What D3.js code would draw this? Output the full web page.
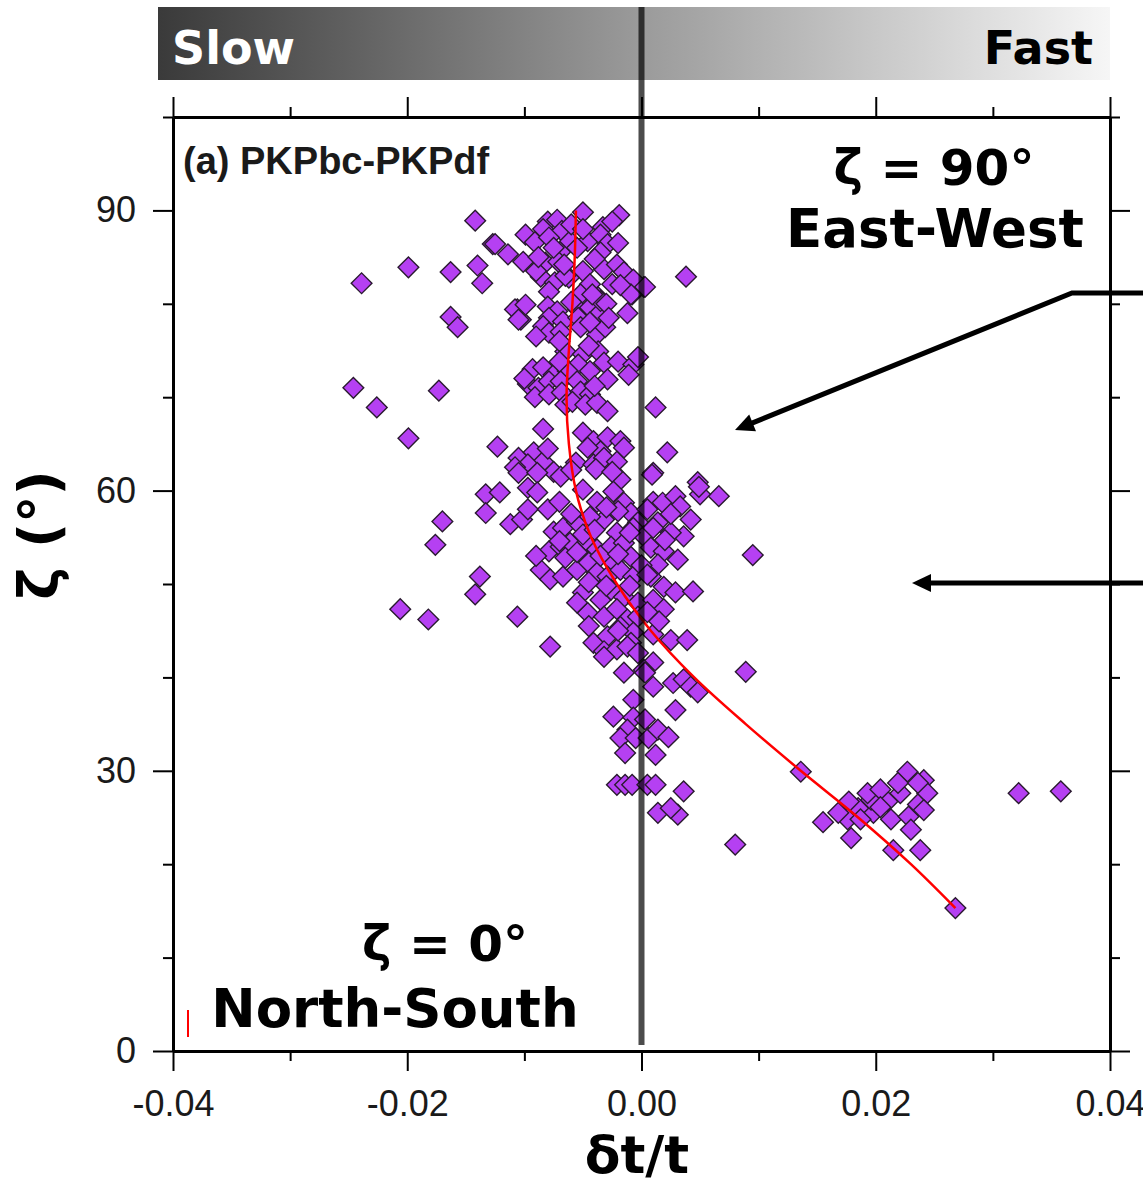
<!DOCTYPE html>
<html>
<head>
<meta charset="utf-8">
<script src="https://cdn.jsdelivr.net/npm/d3@7"></script>
<style>
  html, body { margin: 0; padding: 0; background: #ffffff; }
  svg { display: block; }
</style>
</head>
<body>
<svg id="chart" width="1143" height="1187"></svg>
<script>
// ---------------- DATA ----------------
const xDomain = [-0.04, 0.04];
const yDomain = [0, 100];
const xMajorTicks = [-0.04, -0.02, 0.00, 0.02, 0.04];
const xTickLabels = ["-0.04", "-0.02", "0.00", "0.02", "0.04"];
const xMinorTicks = [-0.03, -0.01, 0.01, 0.03];
const yMajorTicks = [0, 30, 60, 90];
const yTickLabels = ["0", "30", "60", "90"];
const yMinorTicks = [10, 20, 40, 50, 70, 80, 100];

const panelTitle = "(a) PKPbc-PKPdf";
const xTitle = "δt/t";
const yTitle = "ζ (°)";
const barLabels = ["Slow", "Fast"];
const noteTop = ["ζ = 90°", "East-West"];
const noteBottom = ["ζ = 0°", "North-South"];

// measurements: [δt/t, ζ (deg)]
const measurements = [
  [-0.0142, 88.9], [-0.0050, 89.8], [-0.0019, 89.5], [-0.0127, 86.4], [-0.0114, 85.3],
  [-0.0199, 83.9], [-0.0163, 83.4], [-0.0140, 84.1], [-0.0136, 82.2], [-0.0239, 82.2],
  [0.0038, 82.9], [-0.0163, 78.6], [-0.0157, 77.5], [-0.0106, 79.4], [-0.0103, 78.3],
  [0.0002, 81.8], [-0.0008, 81.0], [-0.0246, 71.0], [-0.0226, 68.9], [-0.0173, 70.7],
  [-0.0199, 65.6], [-0.0084, 66.6], [-0.0123, 64.7], [0.0012, 68.9], [0.0022, 64.1],
  [0.0010, 61.9],
  [-0.0080, 88.8], [-0.0072, 89.0], [-0.0099, 87.4], [-0.0084, 88.0], [-0.0068, 87.8],
  [-0.0033, 88.2], [-0.0125, 86.4], [-0.0101, 84.5], [-0.0091, 86.6], [-0.0079, 87.1],
  [-0.0069, 85.6], [-0.0061, 86.7], [-0.0046, 86.7], [-0.0035, 87.4], [-0.0029, 86.4],
  [-0.0035, 85.5], [-0.0082, 84.4], [-0.0071, 84.5], [-0.0050, 83.5], [-0.0032, 83.7],
  [-0.0021, 84.2], [-0.0015, 83.4], [-0.0007, 82.6], [0.0003, 81.8], [-0.0009, 81.0],
  [-0.0086, 82.9], [-0.0074, 82.3], [-0.0079, 81.3], [-0.0062, 82.8], [-0.0044, 82.1],
  [-0.0052, 81.0], [-0.0037, 80.7], [-0.0025, 82.1], [-0.0108, 79.4], [-0.0105, 78.3],
  [-0.0099, 79.9], [-0.0080, 79.7], [-0.0072, 79.2], [-0.0079, 78.5], [-0.0067, 78.1],
  [-0.0084, 77.6], [-0.0079, 76.9], [-0.0054, 79.4], [-0.0054, 78.5], [-0.0044, 79.6],
  [-0.0035, 79.1], [-0.0035, 80.3], [-0.0052, 77.5], [-0.0038, 76.7], [-0.0031, 77.5],
  [-0.0069, 77.0], [-0.0044, 78.0], [-0.0065, 74.9], [-0.0050, 74.6], [-0.0037, 74.9],
  [-0.0054, 73.5], [-0.0032, 73.7], [-0.0020, 73.8], [-0.0007, 73.5], [-0.0003, 74.3],
  [-0.0011, 72.4], [-0.0093, 73.0], [-0.0084, 73.2], [-0.0075, 72.4], [-0.0063, 72.8],
  [-0.0044, 72.8], [-0.0029, 71.9], [-0.0097, 71.4], [-0.0088, 71.0], [-0.0079, 71.7],
  [-0.0069, 71.7], [-0.0055, 71.7], [-0.0091, 70.0], [-0.0079, 70.3], [-0.0068, 70.5],
  [-0.0052, 70.6], [-0.0044, 70.3], [-0.0065, 69.2], [-0.0059, 69.5], [-0.0048, 69.2],
  [-0.0038, 69.4], [-0.0029, 68.5], [-0.0050, 66.2], [-0.0041, 65.3], [-0.0029, 65.7],
  [-0.0018, 65.3], [-0.0015, 64.6], [-0.0035, 64.2], [-0.0046, 64.6], [-0.0105, 63.5],
  [-0.0092, 64.1], [-0.0084, 63.1], [-0.0097, 62.8], [-0.0108, 62.5], [-0.0075, 62.0],
  [-0.0056, 63.0], [-0.0041, 62.8], [-0.0032, 63.5], [-0.0021, 63.1],
  [-0.0105, 61.9], [-0.0089, 61.9], [-0.0069, 61.5], [-0.0039, 62.3], [-0.0018, 61.2],
  [0.0009, 61.7], [0.0048, 60.9], [0.0066, 59.4], [0.0050, 59.6], [-0.0133, 59.6],
  [-0.0121, 59.8], [-0.0097, 60.3], [-0.0089, 59.8], [-0.0133, 57.6], [-0.0112, 56.4],
  [-0.0102, 56.9], [-0.0097, 58.0], [-0.0080, 58.0], [-0.0050, 60.1], [-0.0038, 58.8],
  [-0.0024, 59.9], [-0.0015, 58.7], [-0.0009, 57.6], [-0.0003, 56.6], [0.0010, 58.8],
  [0.0018, 58.7], [0.0029, 59.4], [0.0033, 58.3], [0.0042, 56.9], [0.0036, 55.1],
  [0.0025, 55.5], [0.0014, 56.6], [-0.0032, 56.9], [-0.0021, 55.5], [-0.0007, 56.0],
  [0.0002, 55.1], [-0.0075, 55.6], [-0.0067, 56.0], [-0.0055, 56.6], [-0.0044, 57.2],
  [-0.0079, 53.5], [-0.0069, 54.0], [-0.0061, 54.4], [-0.0046, 54.5], [-0.0038, 53.7],
  [-0.0026, 54.0], [-0.0015, 54.4], [-0.0009, 52.9], [-0.0024, 52.3], [0.0008, 53.9],
  [0.0019, 53.5], [0.0031, 52.6], [0.0014, 52.1], [-0.0086, 51.5], [-0.0078, 50.5],
  [-0.0067, 50.8], [-0.0055, 51.5], [-0.0045, 52.3], [-0.0038, 51.2], [-0.0029, 50.8],
  [-0.0018, 51.5], [-0.0007, 50.8], [0.0008, 50.8], [0.0019, 49.7], [0.0029, 49.1],
  [0.0044, 49.2], [-0.0138, 50.8], [-0.0142, 48.9], [-0.0050, 49.1], [-0.0035, 48.3],
  [-0.0026, 49.4], [-0.0015, 48.6], [-0.0003, 48.0], [0.0010, 48.3], [0.0019, 47.3],
  [-0.0046, 46.9], [-0.0032, 46.5], [-0.0021, 47.3], [-0.0012, 46.2], [-0.0003, 46.5],
  [-0.0106, 46.5], [-0.0078, 43.3], [-0.0041, 43.7], [-0.0029, 44.4], [-0.0018, 45.4],
  [-0.0007, 44.8], [-0.0032, 42.8], [-0.0021, 43.0], [-0.0009, 43.7], [0.0010, 44.6],
  [0.0025, 44.0], [0.0039, 44.0], [0.0010, 41.6], [-0.0015, 40.5], [0.0002, 40.8],
  [0.0010, 39.0], [0.0027, 39.4], [0.0036, 39.8], [0.0042, 39.0], [-0.0007, 37.6],
  [-0.0012, 43.3], [-0.0003, 42.6], [0.0003, 40.5], [0.0048, 38.4], [0.0029, 36.5],
  [-0.0024, 35.8], [-0.0007, 35.7], [0.0003, 35.5], [-0.0012, 34.4], [-0.0018, 33.5],
  [-0.0005, 33.5], [0.0006, 33.5], [0.0014, 34.4], [0.0023, 33.6], [-0.0014, 31.9],
  [0.0012, 31.7], [-0.0021, 28.5], [-0.0014, 28.5], [-0.0008, 28.5], [0.0005, 28.5],
  [0.0012, 28.5], [0.0036, 27.8], [0.0014, 25.5], [0.0031, 25.3], [0.0025, 26.0],
  [-0.0032, 42.2],
  [-0.0170, 56.7], [-0.0176, 54.2], [-0.0206, 47.3], [-0.0182, 46.2], [0.0095, 53.1],
  [0.0089, 40.6], [0.0049, 60.4],
  [0.0136, 29.9], [0.0227, 29.9], [0.0241, 29.0], [0.0244, 27.6], [0.0221, 27.6],
  [0.0210, 26.7], [0.0198, 25.5], [0.0185, 26.0], [0.0177, 26.7], [0.0176, 24.8],
  [0.0155, 24.5], [0.0196, 26.9], [0.0193, 27.6], [0.0204, 28.0], [0.0213, 24.8],
  [0.0228, 25.1], [0.0230, 23.7], [0.0179, 22.8], [0.0215, 21.5], [0.0238, 21.5],
  [0.0268, 15.3], [0.0322, 27.6], [0.0358, 27.8], [0.0236, 26.4], [0.0241, 25.8],
  [0.0187, 24.8], [0.0168, 25.5], [0.0219, 28.7], [0.0236, 28.7], [0.0204, 26.1],
  [0.0080, 22.1],
  [-0.0060, 88.5], [-0.0040, 84.8], [-0.0065, 83.0], [-0.0030, 80.0], [-0.0090, 83.5],
  [-0.0055, 86.0], [-0.0020, 86.5], [-0.0012, 79.0], [-0.0070, 76.0], [-0.0045, 75.5],
  [-0.0060, 57.5], [-0.0020, 57.8], [-0.0050, 55.3], [0.0005, 58.0], [-0.0035, 53.0],
  [-0.0065, 52.8], [0.0020, 54.7], [-0.0010, 49.8], [-0.0055, 48.0], [0.0000, 52.0],
  [-0.0045, 45.5], [0.0015, 46.0],
  [-0.0075, 86.0], [-0.0050, 88.0], [-0.0025, 88.8], [-0.0088, 85.0], [-0.0042, 81.0],
  [-0.0060, 80.2], [-0.0018, 82.0], [-0.0066, 84.2], [-0.0028, 78.5], [-0.0090, 76.5],
  [-0.0070, 73.8], [-0.0040, 71.2], [-0.0100, 72.0], [-0.0060, 62.2], [-0.0025, 62.0],
  [-0.0080, 64.5], [-0.0070, 58.8], [-0.0030, 58.2], [-0.0010, 55.5], [0.0010, 56.0],
  [0.0025, 57.5], [-0.0040, 55.8], [-0.0020, 53.2], [-0.0055, 53.4], [0.0005, 51.0],
  [-0.0030, 49.8], [-0.0020, 45.0], [0.0005, 47.0], [-0.0070, 54.6], [-0.0090, 53.0],
  [-0.0045, 50.2]
];

// fitted curve: [δt/t, ζ]
const fitCurve = [
  [0.0268, 15.3], [0.0230, 20], [0.0185, 25], [0.0136, 30], [0.0089, 35],
  [0.0045, 40], [0.0008, 45], [-0.0021, 50], [-0.0043, 55], [-0.0056, 60],
  [-0.0062, 65], [-0.0064, 70], [-0.0062, 75], [-0.0059, 80], [-0.0057, 85],
  [-0.0056, 90]
];

// ---------------- LAYOUT ----------------
const svg = d3.select("#chart");
const plot = { left: 173, top: 117, right: 1110, bottom: 1051 };

const x = d3.scaleLinear().domain(xDomain).range([plot.left, plot.right]);
const y = d3.scaleLinear().domain(yDomain).range([plot.bottom, plot.top]);

// top gradient bar
const defs = svg.append("defs");
const grad = defs.append("linearGradient").attr("id", "speedGrad")
  .attr("x1", "0%").attr("x2", "100%").attr("y1", "0%").attr("y2", "0%");
grad.append("stop").attr("offset", "0%").attr("stop-color", "#3a3a3a");
grad.append("stop").attr("offset", "50%").attr("stop-color", "#999999");
grad.append("stop").attr("offset", "100%").attr("stop-color", "#f6f6f6");

svg.append("rect").attr("x", 158).attr("y", 7).attr("width", 952).attr("height", 73)
  .attr("fill", "url(#speedGrad)");
svg.append("text").attr("x", 172).attr("y", 64)
  .attr("font-family", "DejaVu Sans").attr("font-weight", "bold").attr("font-size", 46)
  .attr("fill", "#ffffff").text(barLabels[0]);
svg.append("text").attr("x", 1093).attr("y", 64).attr("text-anchor", "end")
  .attr("font-family", "DejaVu Sans").attr("font-weight", "bold").attr("font-size", 46)
  .attr("fill", "#000000").text(barLabels[1]);

// ---------------- AXES ----------------
const tickFont = "Liberation Sans";
function styleAxis(g) {
  g.select(".domain").attr("stroke", "#000").attr("stroke-width", 3);
  g.selectAll(".tick line").attr("stroke", "#000").attr("stroke-width", 2);
  g.selectAll(".tick text").attr("font-family", tickFont).attr("font-size", 36).attr("fill", "#1a1a1a");
}

// bottom
svg.append("g").attr("transform", `translate(0,${plot.bottom})`)
  .call(d3.axisBottom(x).tickValues(xMajorTicks).tickSize(20).tickSizeOuter(0).tickPadding(19)
    .tickFormat((d, i) => xTickLabels[i]))
  .call(styleAxis);
svg.append("g").attr("transform", `translate(0,${plot.bottom})`)
  .call(d3.axisBottom(x).tickValues(xMinorTicks).tickSize(10).tickSizeOuter(0).tickFormat(""))
  .call(styleAxis);
// top
svg.append("g").attr("transform", `translate(0,${plot.top})`)
  .call(d3.axisTop(x).tickValues(xMajorTicks).tickSize(20).tickSizeOuter(0).tickFormat(""))
  .call(styleAxis);
svg.append("g").attr("transform", `translate(0,${plot.top})`)
  .call(d3.axisTop(x).tickValues(xMinorTicks).tickSize(10).tickSizeOuter(0).tickFormat(""))
  .call(styleAxis);
// left
svg.append("g").attr("transform", `translate(${plot.left},0)`)
  .call(d3.axisLeft(y).tickValues(yMajorTicks).tickSize(20).tickSizeOuter(0).tickPadding(17)
    .tickFormat((d, i) => yTickLabels[i]))
  .call(styleAxis);
svg.append("g").attr("transform", `translate(${plot.left},0)`)
  .call(d3.axisLeft(y).tickValues(yMinorTicks).tickSize(10).tickSizeOuter(0).tickFormat(""))
  .call(styleAxis);
// right
svg.append("g").attr("transform", `translate(${plot.right},0)`)
  .call(d3.axisRight(y).tickValues(yMajorTicks).tickSize(20).tickSizeOuter(0).tickFormat(""))
  .call(styleAxis);
svg.append("g").attr("transform", `translate(${plot.right},0)`)
  .call(d3.axisRight(y).tickValues(yMinorTicks).tickSize(10).tickSizeOuter(0).tickFormat(""))
  .call(styleAxis);

// panel title
svg.append("text").attr("x", 183).attr("y", 174)
  .attr("font-family", "Liberation Sans").attr("font-weight", "bold").attr("font-size", 38)
  .attr("fill", "#1a1a1a").text(panelTitle);

// ---------------- MARKS ----------------
const diamond = d3.symbol().type(d3.symbolSquare).size(215);
svg.append("g").selectAll("path").data(measurements).join("path")
  .attr("d", diamond)
  .attr("transform", d => `translate(${x(d[0])},${y(d[1])}) rotate(45)`)
  .attr("fill", "#b540f2").attr("stroke", "#2a1a30").attr("stroke-width", 1.4);

const line = d3.line().x(d => x(d[0])).y(d => y(d[1])).curve(d3.curveCatmullRom);
svg.append("path").datum(fitCurve).attr("d", line)
  .attr("fill", "none").attr("stroke", "#ff0000").attr("stroke-width", 2.5);

// zero line (drawn on top, semi-transparent)
svg.append("line").attr("x1", x(0)).attr("x2", x(0)).attr("y1", 7).attr("y2", plot.bottom - 6)
  .attr("stroke", "#000").attr("stroke-opacity", 0.7).attr("stroke-width", 6);

// small red legend stroke
svg.append("line").attr("x1", 188).attr("x2", 188).attr("y1", 1010).attr("y2", 1037)
  .attr("stroke", "#ff0000").attr("stroke-width", 2);

// ---------------- ANNOTATIONS ----------------
const noteFont = "DejaVu Sans";
function boldText(tx, ty, txt, size, anchor) {
  svg.append("text").attr("x", tx).attr("y", ty).attr("text-anchor", anchor || "start")
    .attr("font-family", noteFont).attr("font-weight", "bold").attr("font-size", size)
    .attr("fill", "#000").text(txt);
}
boldText(934, 185, noteTop[0], 50, "middle");
boldText(935, 247, noteTop[1], 53, "middle");
boldText(445, 961, noteBottom[0], 50, "middle");
boldText(395, 1027, noteBottom[1], 53, "middle");

function arrow(pts) {
  const tip = pts[pts.length - 1];
  const prev = pts[pts.length - 2];
  const ang = Math.atan2(tip[1] - prev[1], tip[0] - prev[0]);
  const L = 19, W = 9;
  const base = [tip[0] - L * Math.cos(ang), tip[1] - L * Math.sin(ang)];
  const linePts = pts.slice(0, -1).concat([[base[0] + 2 * Math.cos(ang), base[1] + 2 * Math.sin(ang)]]);
  svg.append("path").attr("d", d3.line()(linePts))
    .attr("fill", "none").attr("stroke", "#000").attr("stroke-width", 5);
  const nx = -Math.sin(ang), ny = Math.cos(ang);
  svg.append("path").attr("d", d3.line()([
    tip,
    [base[0] + nx * W, base[1] + ny * W],
    [base[0] - nx * W, base[1] - ny * W]
  ]) + "Z").attr("fill", "#000");
}
arrow([[1143, 293], [1072, 293], [735, 430]]);
arrow([[1143, 583], [912, 583]]);

// axis titles
svg.append("text").attr("x", 637).attr("y", 1173).attr("text-anchor", "middle")
  .attr("font-family", noteFont).attr("font-weight", "bold").attr("font-size", 52)
  .attr("fill", "#000").text(xTitle);
svg.append("text").attr("transform", "translate(58,535) rotate(-90)").attr("text-anchor", "middle")
  .attr("font-family", noteFont).attr("font-weight", "bold").attr("font-size", 55)
  .attr("fill", "#000").text(yTitle);
</script>
</body>
</html>
